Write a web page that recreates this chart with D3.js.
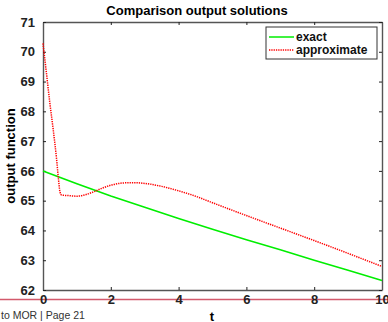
<!DOCTYPE html>
<html>
<head>
<meta charset="utf-8">
<script src="https://cdn.jsdelivr.net/npm/d3@7"></script>
<style>
  body { margin: 0; background: #fff; }
  svg { display: block; font-family: "Liberation Sans", Arial, sans-serif; }
</style>
</head>
<body>
<div id="chart"></div>
<script>
// values
const tExact = [0, 1, 2, 3, 4, 5, 6, 7, 8, 9, 10];
const yExact = [66, 65.57, 65.16, 64.78, 64.40, 64.04, 63.69, 63.35, 63.0, 62.66, 62.32];

const tApprox = [0, 0.1, 0.2, 0.3, 0.4, 0.45, 0.5, 0.55, 0.75, 1.0, 1.25, 1.5, 1.75, 2.0, 2.25, 2.5, 2.75, 3.0, 3.5, 4.0, 4.5, 5, 6, 7, 8, 9, 10];
const yApprox = [70.28, 69.3, 68.3, 67.4, 66.4, 65.8, 65.3, 65.19, 65.17, 65.15, 65.2, 65.3, 65.42, 65.52, 65.58, 65.6, 65.6, 65.58, 65.48, 65.33, 65.15, 64.93, 64.5, 64.08, 63.66, 63.23, 62.79];

const xTicks = [0, 2, 4, 6, 8, 10];
const yTicks = [62, 63, 64, 65, 66, 67, 68, 69, 70, 71];
const seriesNames = ["exact", "approximate"];

const W = 388, H = 322;
const mLeft = 43, mRight = 382, mTop = 22, mBottom = 290;

const svg = d3.select("#chart").append("svg")
    .attr("width", W)
    .attr("height", H);

const x = d3.scaleLinear().domain([0, 10]).range([mLeft, mRight]);
const y = d3.scaleLinear().domain([62, 71]).range([mBottom, mTop]);

// slide divider line and footer
svg.append("line")
    .attr("x1", 0).attr("x2", W)
    .attr("y1", 299.5).attr("y2", 299.5)
    .attr("stroke", "#d35a6c")
    .attr("stroke-width", 1.6);

svg.append("text")
    .attr("x", 1)
    .attr("y", 319)
    .style("font-size", "10.5px")
    .attr("fill", "#333")
    .text("to MOR | Page 21");

// axes, box style with inward ticks
function styleAxis(g) {
    g.select(".domain").attr("stroke", "#555").attr("stroke-width", 1.4);
    g.selectAll(".tick line").attr("stroke", "#222").attr("stroke-width", 1);
    g.selectAll(".tick text")
        .attr("fill", "#222")
        .style("font-size", "13px")
        .style("font-weight", "bold");
}

const xAxisG = svg.append("g")
    .attr("transform", `translate(0,${mBottom})`)
    .call(d3.axisBottom(x).tickValues(xTicks).tickSizeInner(-3).tickSizeOuter(0))
    .call(styleAxis);
xAxisG.selectAll(".tick text").attr("y", 5);

svg.append("g")
    .attr("transform", `translate(0,${mTop})`)
    .call(d3.axisTop(x).tickValues(xTicks).tickSizeInner(-3).tickSizeOuter(0).tickFormat(""))
    .call(styleAxis);

const yAxisG = svg.append("g")
    .attr("transform", `translate(${mLeft},0)`)
    .call(d3.axisLeft(y).tickValues(yTicks).tickSizeInner(-3).tickSizeOuter(0))
    .call(styleAxis);
yAxisG.selectAll(".tick text").attr("x", -8);

svg.append("g")
    .attr("transform", `translate(${mRight},0)`)
    .call(d3.axisRight(y).tickValues(yTicks).tickSizeInner(-3).tickSizeOuter(0).tickFormat(""))
    .call(styleAxis);

// lines
const line = d3.line().x(d => x(d[0])).y(d => y(d[1]));

svg.append("path")
    .datum(tExact.map((t, i) => [t, yExact[i]]))
    .attr("fill", "none")
    .attr("stroke", "#00ee00")
    .attr("stroke-width", 1.6)
    .attr("d", line);

svg.append("path")
    .datum(tApprox.map((t, i) => [t, yApprox[i]]))
    .attr("fill", "none")
    .attr("stroke", "#ff0000")
    .attr("stroke-width", 1.5)
    .attr("stroke-dasharray", "1.3,1")
    .attr("d", d3.line().curve(d3.curveMonotoneX).x(d => x(d[0])).y(d => y(d[1])));

// legend
const lg = svg.append("g").attr("transform", "translate(266,27)");
lg.append("rect")
    .attr("width", 111).attr("height", 32)
    .attr("fill", "#fff")
    .attr("stroke", "#333")
    .attr("stroke-width", 1);
seriesNames.forEach((name, i) => {
    const yy = 10 + i * 13;
    lg.append("line")
        .attr("x1", 3).attr("x2", 28)
        .attr("y1", yy).attr("y2", yy)
        .attr("stroke", i === 0 ? "#00ee00" : "#ff0000")
        .attr("stroke-width", 1.5)
        .attr("stroke-dasharray", i === 0 ? null : "1.3,1");
    lg.append("text")
        .attr("x", 30)
        .attr("y", yy + 4)
        .style("font-size", "12px")
        .style("font-weight", "bold")
        .attr("fill", "#111")
        .text(name);
});

// title and axis labels
svg.append("text")
    .attr("x", 197).attr("y", 15)
    .attr("text-anchor", "middle")
    .style("font-size", "13px")
    .style("font-weight", "bold")
    .text("Comparison output solutions");

svg.append("text")
    .attr("x", 212).attr("y", 321)
    .attr("text-anchor", "middle")
    .style("font-size", "13px")
    .style("font-weight", "bold")
    .text("t");

svg.append("text")
    .attr("transform", "translate(15,156) rotate(-90)")
    .attr("text-anchor", "middle")
    .style("font-size", "13px")
    .style("font-weight", "bold")
    .text("output function");
</script>
</body>
</html>
